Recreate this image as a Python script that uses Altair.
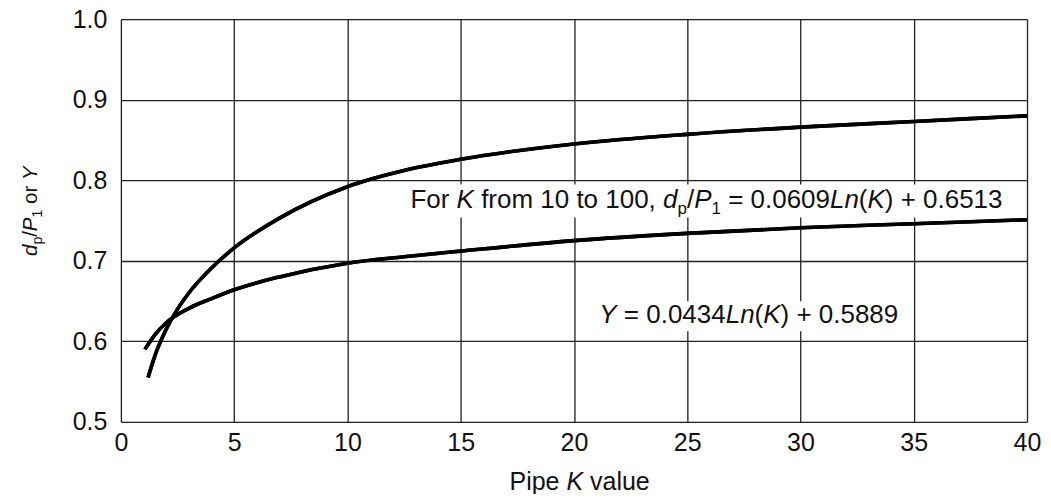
import altair as alt
import pandas as pd

# ---------------- data ----------------
k_upper = [1.2, 1.5, 2, 2.5, 3, 4, 5, 7, 10, 12.5, 15, 20, 25, 30, 35, 40]
dp_p1 = [0.555, 0.582, 0.615, 0.640, 0.660, 0.691, 0.716, 0.753, 0.792, 0.812,
         0.826, 0.845, 0.857, 0.866, 0.873, 0.880]
k_lower = [1.06, 1.5, 2, 3, 4, 5, 7, 10, 12.5, 15, 20, 25, 30, 35, 40]
y_factor = [0.590, 0.608, 0.623, 0.641, 0.653, 0.664, 0.680, 0.697, 0.705,
            0.712, 0.725, 0.734, 0.741, 0.746, 0.751]

x_ticks = [0, 5, 10, 15, 20, 25, 30, 35, 40]
y_ticks = [0.5, 0.6, 0.7, 0.8, 0.9, 1.0]

# ---------------- layout ----------------
W, H = 907, 403
PAD_L, PAD_T = 113, 11
FONT = "Liberation Sans"
FS = 25
FS_ANN = 26
SUB = 17
PX_PER_K = W / 40.0
PX_PER_V = H / 0.5

# Arial / Liberation Sans advance widths (per 1000 em)
CW = {' ': 278, '(': 333, ')': 333, '+': 584, ',': 278, '.': 278, '/': 278,
      '=': 584, 'F': 611, 'K': 667, 'L': 556, 'P': 667, 'Y': 667, 'a': 556,
      'd': 556, 'e': 556, 'f': 278, 'i': 222, 'l': 222, 'm': 833, 'n': 556,
      'o': 556, 'p': 556, 'r': 333, 't': 278, 'u': 556, 'v': 500}


def tw(s, size):
    return sum(CW.get(c, 556) for c in s) * size / 1000.0


# segments: (text, italic, subscript)
ann1 = [("For ", False, False), ("K", True, False), (" from 10 to 100, ", False, False),
        ("d", True, False), ("p", False, True), ("/", False, False), ("P", True, False),
        ("1", False, True), (" = 0.0609", False, False), ("Ln", True, False),
        ("(", False, False), ("K", True, False), (") + 0.6513", False, False)]
ann2 = [("Y", True, False), (" = 0.0434", False, False), ("Ln", True, False),
        ("(", False, False), ("K", True, False), (") + 0.5889", False, False)]
xtitle = [("Pipe ", False, False), ("K", True, False), (" value", False, False)]
ytitle = [("d", True, False), ("p", False, True), ("/", False, False), ("P", True, False),
          ("1", False, True), (" or ", False, False), ("Y", True, False)]

one = alt.Data(values=[{"a": 1}])


def seg_layers(segs, xenc, yenc, size, subsize, subdy, angle=0):
    layers = []
    off = 0.0
    for txt, ital, sub in segs:
        fs = subsize if sub else size
        shown = txt.lstrip(" ").rstrip(" ")
        lead = len(txt) - len(txt.lstrip(" "))
        kw = dict(text=shown, align="left", baseline="alphabetic", font=FONT,
                  fontSize=fs, color="#111111", dx=off + lead * 0.278 * fs,
                  dy=subdy if sub else 0)
        if ital:
            kw["fontStyle"] = "italic"
        if angle:
            kw["angle"] = angle
        layers.append(alt.Chart(one).mark_text(**kw).encode(x=xenc, y=yenc))
        off += tw(txt, fs)
    return layers, off


# ---------------- curves ----------------
df = pd.concat([
    pd.DataFrame({"K": k_upper, "v": dp_p1, "s": "dp/P1"}),
    pd.DataFrame({"K": k_lower, "v": y_factor, "s": "Y"}),
])

lines = alt.Chart(df).mark_line(color="black", strokeWidth=3.6, interpolate="monotone",
                                strokeCap="butt").encode(
    x=alt.X("K:Q", scale=alt.Scale(domain=[0, 40], nice=False, zero=False),
            axis=alt.Axis(values=x_ticks, title=None, grid=True, ticks=False, domain=False,
                          labelFont=FONT, labelFontSize=FS, labelColor="#111111",
                          labelPadding=9, gridColor="#222222", gridWidth=1.3,
                          labelFlush=False, format="d")),
    y=alt.Y("v:Q", scale=alt.Scale(domain=[0.5, 1.0], nice=False, zero=False),
            axis=alt.Axis(values=y_ticks, title=None, grid=True, ticks=False, domain=False,
                          labelFont=FONT, labelFontSize=FS, labelColor="#111111",
                          labelPadding=14, gridColor="#222222", gridWidth=1.3,
                          labelFlush=False, format=".1f")),
    detail="s:N",
)

# ---------------- annotations ----------------
a1_k, a1_v = 12.78, 0.765
a2_k, a2_v = 21.12, 0.6225

l1, w1 = seg_layers(ann1, alt.datum(a1_k), alt.datum(a1_v), FS_ANN, SUB, 6)
l2, w2 = seg_layers(ann2, alt.datum(a2_k), alt.datum(a2_v), FS_ANN, SUB, 6)


def box(k, v, w, top_px, bot_px):
    return alt.Chart(one).mark_rect(color="white").encode(
        x=alt.datum(k - 6 / PX_PER_K), x2=alt.datum(k + (w + 6) / PX_PER_K),
        y=alt.datum(v + top_px / PX_PER_V), y2=alt.datum(v - bot_px / PX_PER_V))


b1 = box(a1_k, a1_v, w1, 24, 9)
b2 = box(a2_k, a2_v, w2, 22, 8)

lx, _ = seg_layers(xtitle, alt.value(389), alt.value(471), FS, SUB, 6)
ly, _ = seg_layers(ytitle, alt.value(-84), alt.value(237), 20.5, 14, 5, angle=270)

chart = alt.layer(lines, b1, b2, *l1, *l2, *lx, *ly, lines).properties(
    width=W, height=H,
    autosize=alt.AutoSizeParams(type="none"),
    padding={"left": PAD_L, "top": PAD_T, "right": 16, "bottom": 72},
).configure_view(stroke="black", strokeWidth=3.2).configure(background="white")

chart.save("out.html", embed_options={"renderer": "svg", "actions": False})
